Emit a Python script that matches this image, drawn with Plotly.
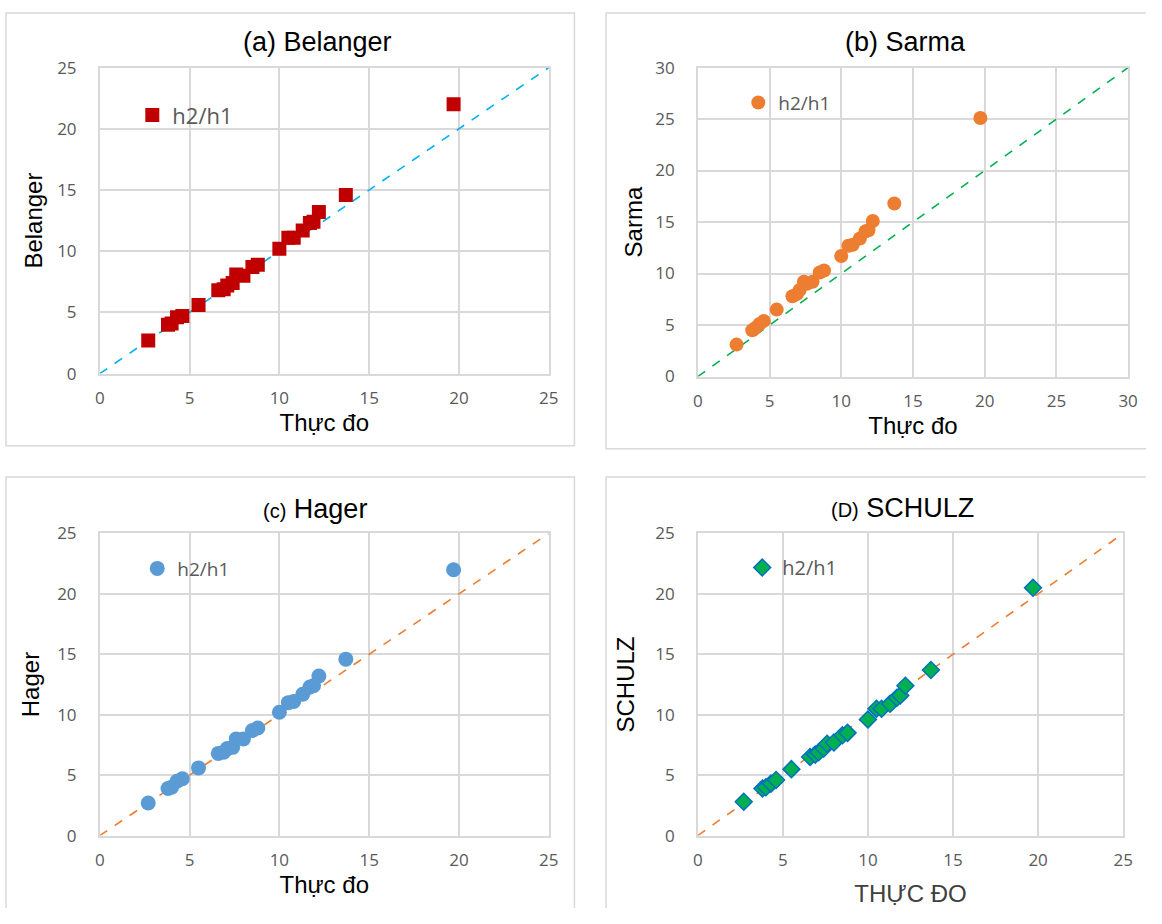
import plotly.graph_objects as go

# ---- data ----
thuc_do = [2.7, 3.8, 4.0, 4.3, 4.6, 5.5, 6.6, 6.9, 7.1, 7.4, 7.6, 8.0, 8.5, 8.8,
           10.0, 10.5, 10.8, 11.3, 11.7, 11.9, 12.2, 13.7, 19.7]
belanger = [2.7, 4.0, 4.1, 4.6, 4.7, 5.6, 6.8, 6.9, 7.2, 7.4, 8.1, 8.0, 8.7, 8.9,
            10.2, 11.1, 11.1, 11.7, 12.3, 12.4, 13.2, 14.6, 22.0]
sarma = [3.1, 4.5, 4.7, 5.1, 5.4, 6.5, 7.8, 8.0, 8.4, 9.2, 9.0, 9.2, 10.1, 10.3,
         11.7, 12.7, 12.8, 13.4, 14.1, 14.2, 15.1, 16.8, 25.1]
hager = [2.7, 3.9, 4.0, 4.5, 4.7, 5.6, 6.8, 6.9, 7.2, 7.3, 8.0, 8.0, 8.7, 8.9,
         10.2, 11.0, 11.1, 11.7, 12.3, 12.4, 13.2, 14.6, 22.0]
schulz = [2.8, 3.9, 4.0, 4.3, 4.6, 5.5, 6.5, 6.7, 6.9, 7.2, 7.6, 7.7, 8.3, 8.5,
          9.6, 10.5, 10.5, 10.9, 11.4, 11.6, 12.4, 13.7, 20.5]
series_name = "h2/h1"
diag_ab = [0, 25]
diag_b = [0, 30]
ticks25 = [0, 5, 10, 15, 20, 25]
ticks30 = [0, 5, 10, 15, 20, 25, 30]

# page has an 8px body margin, so the figure is sized to fit the window exactly
OFF = 8
W, H = 1162 - 2 * OFF, 924 - 2 * OFF
def px(x): return (x - OFF) / W
def py(y): return 1 - (y - OFF) / H

TICKFONT = dict(family="Open Sans", size=17, color="#595959")
TITLEFONT = dict(family="Liberation Sans", size=24, color="#000000")
GRID = "#d9d9d9"

fig = go.Figure()

panels = [
    dict(xa="x", ya="y", y=belanger, diag=diag_ab,
         marker=dict(symbol="square", size=14, color="#c00000"),
         dcolor="#00b0f0", leg="legend"),
    dict(xa="x2", ya="y2", y=sarma, diag=diag_b,
         marker=dict(symbol="circle", size=14, color="#ed7d31"),
         dcolor="#00b050", leg="legend2"),
    dict(xa="x3", ya="y3", y=hager, diag=diag_ab,
         marker=dict(symbol="circle", size=15, color="#5b9bd5"),
         dcolor="#ed7d31", leg="legend3"),
    dict(xa="x4", ya="y4", y=schulz, diag=diag_ab,
         marker=dict(symbol="diamond", size=13, color="#00b050",
                     line=dict(color="#0070c0", width=1.5)),
         dcolor="#ed7d31", leg="legend4"),
]

for p in panels:
    fig.add_trace(go.Scatter(x=p["diag"], y=p["diag"], mode="lines",
                             line=dict(color=p["dcolor"], width=1.6, dash="dash"),
                             xaxis=p["xa"], yaxis=p["ya"], showlegend=False,
                             hoverinfo="skip"))
    fig.add_trace(go.Scatter(x=thuc_do, y=p["y"], mode="markers", name=series_name,
                             marker=p["marker"], xaxis=p["xa"], yaxis=p["ya"],
                             legend=p["leg"], showlegend=True))

def axis_common(rng, ticks):
    return dict(range=rng, tickvals=ticks, showgrid=True, gridcolor=GRID, gridwidth=1.5,
                showline=True, linecolor=GRID, linewidth=1.5, mirror=True,
                zeroline=False, tickfont=TICKFONT, ticks="", fixedrange=True)

dom_a_x = [px(104), px(559)]
dom_b_x = [px(710), px(1146)]
dom_c_x = [px(104), px(559)]
dom_d_x = [px(710), px(1141)]
dom_top_y = [py(379), py(65)]
dom_b_y = [py(382), py(65)]
dom_bot_y = [py(853), py(543)]

def xax(dom, rng, ticks, title, anchor, font=TITLEFONT, standoff=5):
    d = axis_common(rng, ticks)
    d.update(domain=dom, anchor=anchor, ticklabelstandoff=8,
             title=dict(text=title, font=font, standoff=standoff))
    return d

def yax(dom, rng, ticks, title, anchor, standoff=12):
    d = axis_common(rng, ticks)
    d.update(domain=dom, anchor=anchor, ticklabelstandoff=18,
             title=dict(text=title, font=TITLEFONT, standoff=standoff))
    return d

fig.update_layout(
    width=W, height=H, margin=dict(l=0, r=0, t=0, b=0),
    paper_bgcolor="white", plot_bgcolor="white",
    xaxis=xax(dom_a_x, [0, 25], ticks25, "Thực đo", "y"),
    yaxis=yax(dom_top_y, [0, 25], ticks25, "Belanger", "x", standoff=8),
    xaxis2=xax(dom_b_x, [0, 30], ticks30, "Thực đo", "y2"),
    yaxis2=yax(dom_b_y, [0, 30], ticks30, "Sarma", "x2", standoff=6),
    xaxis3=xax(dom_c_x, [0, 25], ticks25, "Thực đo", "y3"),
    yaxis3=yax(dom_bot_y, [0, 25], ticks25, "Hager", "x3", standoff=11),
    xaxis4=xax(dom_d_x, [0, 25], ticks25, "THỰC ĐO", "y4",
               font=dict(family="Liberation Sans", size=24, color="#404040"), standoff=15),
    yaxis4=yax(dom_bot_y, [0, 25], ticks25, "SCHULZ", "x4", standoff=14),
    showlegend=True,
)

def leg(x, y, size):
    return dict(x=px(x), y=py(y), xanchor="left", yanchor="middle",
                bgcolor="rgba(0,0,0,0)",
                font=dict(family="Open Sans", size=size, color="#595959"),
                itemwidth=30, tracegroupgap=0)

fig.update_layout(
    legend=leg(137, 114, 22),
    legend2=leg(751, 101, 19),
    legend3=leg(142, 579, 19),
    legend4=leg(755, 578, 20),
)

# panel borders
for (x0, y0, x1, y1) in [(9, 9, 585, 453), (617, 9, 1175, 456),
                         (9, 485, 585, 940), (617, 485, 1175, 940)]:
    fig.add_shape(type="rect", xref="paper", yref="paper",
                  x0=px(x0), x1=px(x1), y0=py(y1), y1=py(y0),
                  line=dict(color=GRID, width=1.5), fillcolor="rgba(0,0,0,0)",
                  layer="below")

# panel titles
titles = [
    ("(a) Belanger", 325, 39),
    ("(b) Sarma", 920, 39),
    ("<span style='font-size:20px'>(c)</span> Hager", 322, 518),
    ("<span style='font-size:20px'>(D)</span> SCHULZ", 917, 517),
]
for text, x, y in titles:
    fig.add_annotation(text=text, x=px(x), y=py(y), xref="paper", yref="paper",
                       xanchor="center", yanchor="middle", showarrow=False,
                       font=dict(family="Liberation Sans", size=27, color="#000000"))

fig.write_html("out.html")
